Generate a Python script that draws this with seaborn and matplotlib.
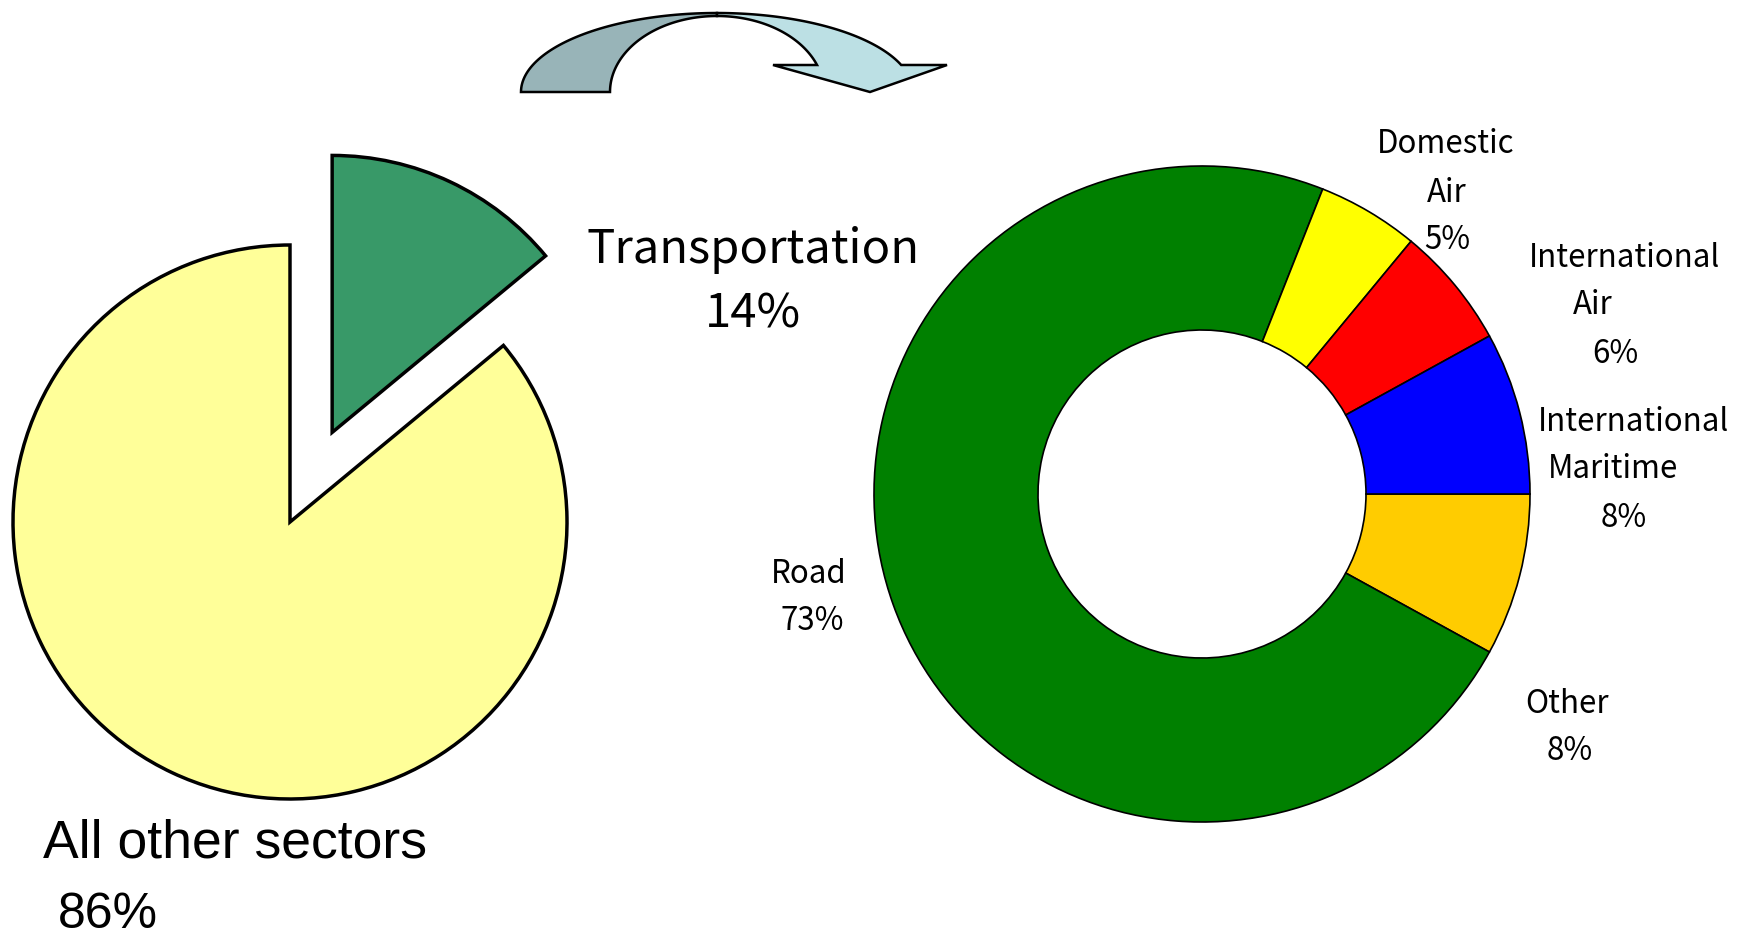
import numpy as np
import matplotlib.pyplot as plt
import seaborn as sns

# data: share of emissions by sector, then split of the transport share
sector_labels = ['Transportation', 'All other sectors']
sector_shares = [14, 86]
sector_colors = ['#389968', '#FFFF99']

mode_labels = ['Other', 'Road', 'Domestic\nAir', 'International\nAir', 'International\nMaritime']
mode_shares = [8, 73, 5, 6, 8]
mode_colors = ['#FFCC00', '#008000', '#FFFF00', '#FF0000', '#0000FF']

W, H = 1756, 939

sns.set_theme(style='white')
plt.rcParams['font.family'] = ['Noto Sans CJK JP', 'DejaVu Sans']
plt.rcParams['text.color'] = 'black'

fig = plt.figure(figsize=(W / 100, H / 100), dpi=100)
ax = fig.add_axes([0, 0, 1, 1])


def up(y):
    # picture rows run downwards, axes y runs upwards
    return H - y


# left pie, transport slice pulled out
pie_c = (290, up(522))
wedges, _ = ax.pie(sector_shares, colors=sector_colors, startangle=90, counterclock=False,
                   center=pie_c, radius=277,
                   wedgeprops=dict(edgecolor='black', linewidth=2.5))
mid = np.deg2rad(90 - 360 * sector_shares[0] / 100 / 2)
wedges[0].set_center((pie_c[0] + 99 * np.cos(mid), pie_c[1] + 99 * np.sin(mid)))

# right donut, transport split
ax.pie(mode_shares, colors=mode_colors, startangle=0, counterclock=False,
       center=(1202, up(494)), radius=328,
       wedgeprops=dict(width=164, edgecolor='black', linewidth=1.2))

# curved arrow between the two charts
def arc(cx, cy, a, b, t0, t1, n=60):
    t = np.deg2rad(np.linspace(t0, t1, n))
    return np.column_stack([cx + a * np.cos(t), up(cy - b * np.sin(t))])

back = np.vstack([arc(717, 92, 196, 79, 180, 90), arc(717, 92, 107, 76, 90, 180)])
front = np.vstack([arc(717, 92, 196, 79, 90, 20),
                   [[947, up(65)], [870, up(92)], [773, up(65)]],
                   arc(717, 92, 107, 76, 20.8, 90)])
ax.add_patch(plt.Polygon(back, closed=True, facecolor='#98B4B8', edgecolor='black', lw=1.8))
ax.add_patch(plt.Polygon(front, closed=True, facecolor='#BCE0E4', edgecolor='black', lw=1.8))

# labels, line by line (x centre, baseline row)
for (x, y), line in zip([(753, 263), (753, 328)], [sector_labels[0], f'{sector_shares[0]}%']):
    ax.text(x, up(y), line, ha='center', va='baseline', fontsize=34)
ax.text(43, up(857), sector_labels[1], ha='left', va='baseline', fontsize=38.5,
        family='Liberation Sans')
ax.text(58, up(928), f'{sector_shares[1]}%', ha='left', va='baseline', fontsize=36,
        family='Liberation Sans')

mode_pos = [
    [(1567, 713), (1570, 760)],
    [(809, 583), (812, 630)],
    [(1446, 153), (1447, 202), (1447, 249)],
    [(1625, 267), (1593, 314), (1615, 363)],
    [(1634, 431), (1613, 478), (1624, 527)],
]
for lab, share, pos in zip(mode_labels, mode_shares, mode_pos):
    lines = lab.split('\n') + [f'{share}%']
    for (x, y), line in zip(pos, lines):
        ax.text(x, up(y), line, ha='center', va='baseline', fontsize=22.5)

ax.set_xlim(0, W)
ax.set_ylim(0, H)
ax.set_aspect('equal')
ax.axis('off')

fig.savefig('out.png', dpi=100)
